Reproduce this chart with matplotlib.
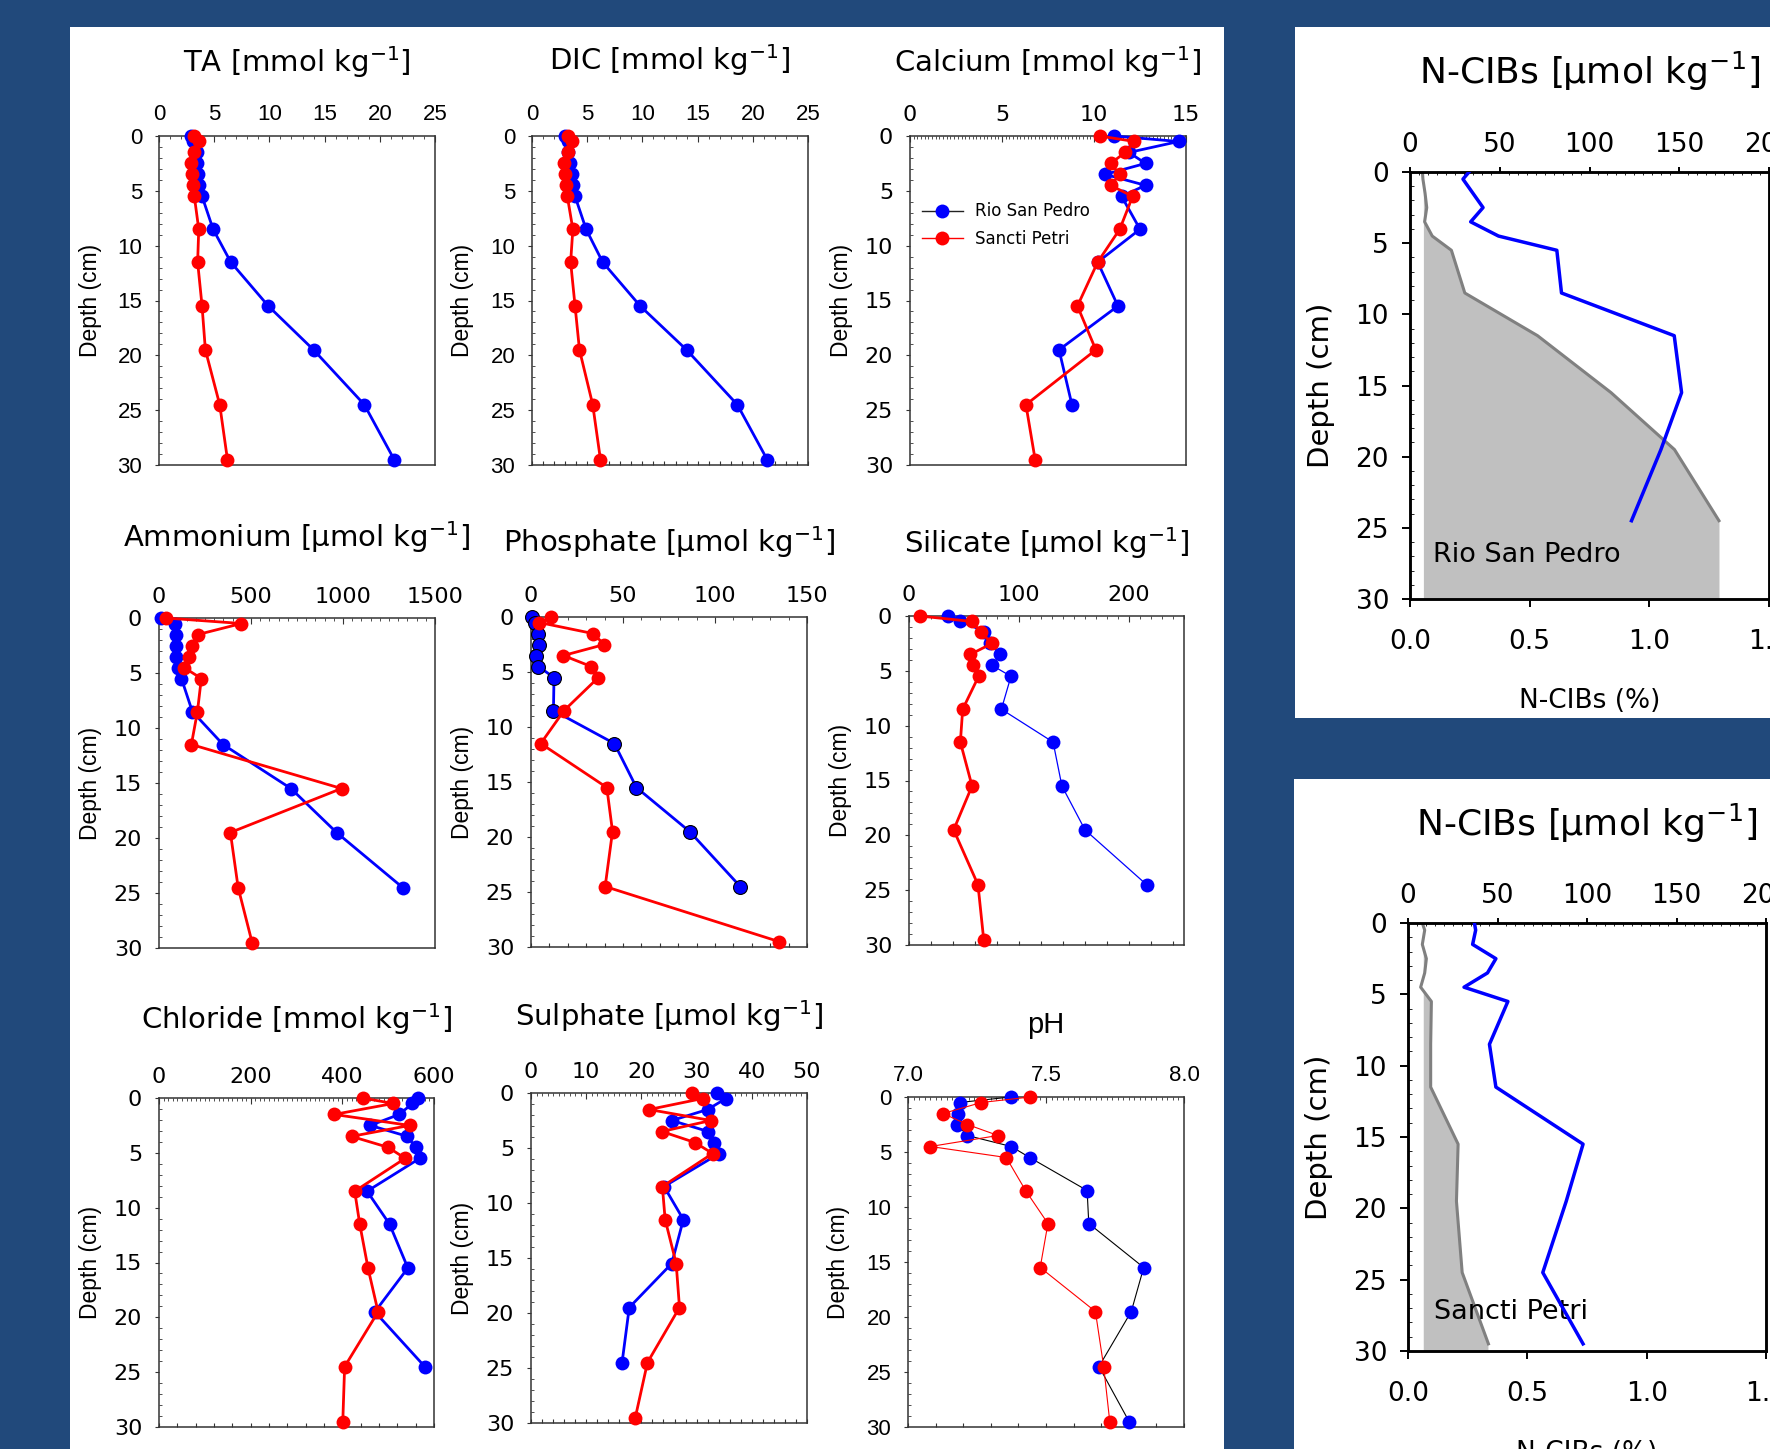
import matplotlib
matplotlib.use('Agg')
import matplotlib.pyplot as plt
from matplotlib.lines import Line2D
from matplotlib.patches import Rectangle
from matplotlib.ticker import MultipleLocator, FormatStrFormatter

plt.rcParams['font.family'] = ['DejaVu Sans']
plt.rcParams['mathtext.default'] = 'regular'

# sampling depths (cm)
depth = [0, 0.5, 1.5, 2.5, 3.5, 4.5, 5.5, 8.5, 11.5, 15.5, 19.5, 24.5, 29.5]

# Rio San Pedro (rsp) and Sancti Petri (sp) porewater profiles
ta_rsp = [2.9, 3.1, 3.4, 3.4, 3.5, 3.6, 3.9, 4.9, 6.5, 9.9, 14.0, 18.6, 21.3]
ta_sp = [3.2, 3.6, 3.2, 2.9, 3.0, 3.1, 3.2, 3.6, 3.5, 3.9, 4.2, 5.5, 6.2]
dic_rsp = [3.0, 3.3, 3.3, 3.4, 3.6, 3.7, 3.9, 4.9, 6.4, 9.8, 14.0, 18.6, 21.3]
dic_sp = [3.3, 3.6, 3.3, 2.9, 3.0, 3.1, 3.2, 3.7, 3.5, 3.9, 4.3, 5.5, 6.2]
ca_rsp = [11.1, 14.6, 11.9, 12.8, 10.6, 12.8, 11.5, 12.5, 10.2, 11.3, 8.1, 8.8]
ca_sp = [10.3, 12.2, 11.7, 10.9, 11.4, 10.9, 12.1, 11.4, 10.2, 9.1, 10.1, 6.3, 6.8]
nh4_rsp = [13, 85, 91, 91, 91, 103, 122, 181, 348, 717, 965, 1324]
nh4_sp = [36, 448, 212, 181, 163, 136, 230, 209, 176, 992, 388, 430, 506]
po4_rsp = [0.7, 2.2, 3.6, 4.2, 2.7, 4.0, 12.5, 12.2, 45.3, 57.3, 86.2, 113.7]
po4_sp = [10.9, 4.5, 33.6, 39.9, 17.6, 32.7, 36.6, 18.0, 5.3, 41.2, 44.3, 40.3, 134.6]
si_rsp = [35.5, 46.7, 68.5, 73.3, 83, 75.5, 92.7, 84, 131, 139, 160, 216]
si_sp = [9.7, 57.3, 65.5, 75.5, 55.8, 58.2, 63.3, 48.8, 46.7, 57.3, 40.6, 62.7, 67.9]
cl_rsp = [565, 553, 524, 461, 542, 560, 569, 454, 503, 543, 471, 580]
cl_sp = [444, 511, 382, 547, 420, 500, 537, 427, 438, 456, 478, 405, 401]
so4_rsp = [33.7, 35.3, 32.0, 25.5, 32.1, 33.2, 34.1, 24.1, 27.6, 25.5, 17.8, 16.5]
so4_sp = [29.1, 31.1, 21.4, 32.6, 23.7, 29.7, 32.9, 23.8, 24.3, 26.3, 26.9, 21.1, 18.9]
ph_rsp = [7.372, 7.187, 7.181, 7.178, 7.215, 7.374, 7.441, 7.649, 7.655, 7.854, 7.809, 7.692, 7.801]
ph_sp = [7.443, 7.266, 7.127, 7.215, 7.326, 7.081, 7.356, 7.426, 7.507, 7.479, 7.679, 7.709, 7.731]

# N-CIBs: concentration (umol/kg) and percentage
ncib_rsp_umol = [32.9, 29.5, 35.1, 40.7, 33.8, 49.3, 81.8, 84.4, 147.2, 151.3, 139.8, 123.4]
ncib_rsp_pct = [0.052, 0.054, 0.063, 0.070, 0.061, 0.093, 0.173, 0.229, 0.533, 0.840, 1.105, 1.291]
ncib_sp_umol = [37.1, 37.8, 36.1, 49.1, 44.4, 31.3, 55.8, 45.5, 49.1, 97.8, 88.4, 75.3, 97.8]
ncib_sp_pct = [0.060, 0.070, 0.060, 0.077, 0.070, 0.053, 0.098, 0.095, 0.095, 0.210, 0.203, 0.227, 0.337]

BLUE, RED = '#0000ff', '#ff0000'
AXC = '#333333'
ARIAL = 'Liberation Sans'
GOTH = 'DejaVu Sans'

W, H = 1770, 1449
fig = plt.figure(figsize=(W / 100, H / 100), dpi=100, facecolor='#21497b')


def white_panel(x0, y0, x1, y1):
    fig.add_artist(Rectangle((x0 / W, 1 - y1 / H), (x1 - x0) / W, (y1 - y0) / H,
                             transform=fig.transFigure, facecolor='white',
                             edgecolor='none', zorder=-5))


def box_axes(x0, y0, x1, y1):
    return fig.add_axes([x0 / W, 1 - y1 / H, (x1 - x0) / W, (y1 - y0) / H])


white_panel(70, 27, 1224, 1449)
white_panel(1295, 27, 1770, 718)
white_panel(1294, 779, 1770, 1449)


def profile(box, title, xlim, major, top_minor, bot_step, rsp, sp, fmt='%g',
            tfont=GOTH, title_font=GOTH, title_off=66, lw_b=2.0, lw_r=2.0,
            line_b=BLUE, mec_b=None):
    ax = box_axes(*box)
    wpx, hpx = box[2] - box[0], box[3] - box[1]
    ax.plot(rsp, depth[:len(rsp)], color=line_b, lw=lw_b, marker='o', ms=10,
            mfc=BLUE, mec=mec_b if mec_b else BLUE, mew=0.8 if mec_b else 0,
            clip_on=False, zorder=3)
    ax.plot(sp, depth[:len(sp)], color=RED, lw=lw_r, marker='o', ms=10,
            mfc=RED, mec=RED, mew=0, clip_on=False, zorder=4)
    ax.set_xlim(*xlim)
    ax.set_ylim(30, 0)
    for s in ax.spines.values():
        s.set_color(AXC)
        s.set_linewidth(1.1)
    ax.xaxis.set_major_locator(MultipleLocator(major))
    ax.xaxis.set_minor_locator(MultipleLocator(top_minor))
    ax.xaxis.set_major_formatter(FormatStrFormatter(fmt))
    ax.tick_params(axis='x', which='both', top=True, bottom=False, labeltop=True,
                   labelbottom=False, direction='in', color=AXC)
    ax.tick_params(axis='x', which='major', length=4, pad=8, labelsize=16,
                   labelfontfamily=tfont)
    ax.tick_params(axis='x', which='minor', length=2)
    ax.yaxis.set_major_locator(MultipleLocator(5))
    ax.yaxis.set_minor_locator(MultipleLocator(1))
    ax.tick_params(axis='y', which='both', right=False, color=AXC)
    ax.tick_params(axis='y', which='major', direction='out', length=3.1, pad=9,
                   labelsize=16, labelfontfamily=tfont)
    ax.tick_params(axis='y', which='minor', direction='in', length=2.5)
    if bot_step:
        sec = ax.secondary_xaxis('bottom')
        sec.xaxis.set_major_locator(MultipleLocator(bot_step))
        sec.tick_params(direction='in', length=3, labelbottom=False, color=AXC)
        sec.spines['bottom'].set_visible(False)
    ax.text(0.5, 1 + title_off / hpx, title, transform=ax.transAxes, ha='center',
            va='baseline', fontsize=21, family=title_font)
    ax.text(-69 / wpx, 0.5, 'Depth (cm)', transform=ax.transAxes, rotation=90,
            ha='center', va='center', fontsize=16.5, family=ARIAL)
    return ax


profile((159, 136, 435, 465), 'TA [mmol kg$^{-1}$]', (0, 25), 5, 1, None,
        ta_rsp, ta_sp, tfont=ARIAL, title_off=64)
profile((532, 136, 808, 465), 'DIC [mmol kg$^{-1}$]', (0, 25), 5, 1, 1,
        dic_rsp, dic_sp, tfont=ARIAL, title_off=66)
ax_ca = profile((910, 136, 1186, 465), 'Calcium [mmol kg$^{-1}$]', (0, 15), 5, 0.2,
                None, ca_rsp, ca_sp, title_off=64)
handles = [Line2D([], [], color='#222222', lw=1, marker='o', ms=10, mfc=BLUE, mew=0),
           Line2D([], [], color=RED, lw=1, marker='o', ms=10, mfc=RED, mew=0)]
ax_ca.legend(handles, ['Rio San Pedro', 'Sancti Petri'], loc='center left',
             bbox_to_anchor=(0.042, 0.7295), frameon=False, fontsize=12,
             handlelength=2.5, handletextpad=0.7, labelspacing=0.55,
             borderpad=0, borderaxespad=0)

profile((159, 618, 435, 948), 'Ammonium [µmol kg$^{-1}$]', (0, 1500), 500, 50, None,
        nh4_rsp, nh4_sp, title_off=71)
profile((531, 617, 807, 947), 'Phosphate [µmol kg$^{-1}$]', (0, 150), 50, 10, 10,
        po4_rsp, po4_sp, title_off=65, mec_b='black')
profile((909, 616, 1184, 945), 'Silicate [µmol kg$^{-1}$]', (0, 250), 100, 10, 20,
        si_rsp, si_sp, title_off=63, lw_b=0.9)

profile((159, 1098, 434, 1427), 'Chloride [mmol kg$^{-1}$]', (0, 600), 200, 10, 40,
        cl_rsp, cl_sp, title_off=69)
profile((531, 1093, 807, 1423), 'Sulphate [µmol kg$^{-1}$]', (0, 50), 10, 1, 2,
        so4_rsp, so4_sp, title_off=67)
profile((908, 1097, 1184, 1427), 'pH', (7.0, 8.0), 0.5, 0.02, 0.1,
        ph_rsp, ph_sp, fmt='%.1f', tfont=ARIAL, title_font=ARIAL, title_off=64,
        lw_b=0.8, lw_r=0.8, line_b='black')


def ncib(box, umol, pct, fill_left, label, label_xy, title_off):
    ax = box_axes(*box)
    wpx, hpx = box[2] - box[0], box[3] - box[1]
    d_pct = depth[:len(pct)] + [30]
    v_pct = pct + [pct[-1]]
    ax.fill_betweenx(d_pct, fill_left, v_pct, where=[v >= fill_left for v in v_pct],
                     interpolate=True, color='#c0c0c0', lw=0, zorder=1)
    ax.plot(pct, depth[:len(pct)], color='#808080', lw=2.2, zorder=2)
    ax.set_xlim(0, 1.5)
    ax.set_ylim(30, 0)
    ax.xaxis.set_major_locator(MultipleLocator(0.5))
    ax.xaxis.set_major_formatter(FormatStrFormatter('%.1f'))
    ax.tick_params(axis='x', which='major', direction='out', length=5.8, width=1.4,
                   pad=16, labelsize=19, color='black')
    ax.yaxis.set_major_locator(MultipleLocator(5))
    ax.yaxis.set_minor_locator(MultipleLocator(1))
    ax.tick_params(axis='y', which='major', direction='out', length=5.5, width=1.4,
                   pad=9.6, labelsize=19)
    ax.tick_params(axis='y', which='minor', direction='in', length=3)
    for s in ax.spines.values():
        s.set_linewidth(1.8)
    ax.text(label_xy[0], label_xy[1], label, fontsize=19.5, va='center', zorder=5)
    ax.text(0.5, -102 / hpx, 'N-CIBs (%)', transform=ax.transAxes, ha='center',
            va='center', fontsize=19)
    ax.text(-89 / wpx, 0.5, 'Depth (cm)', transform=ax.transAxes, rotation=90,
            ha='center', va='center', fontsize=21)
    ax.text(0.5, 1 + title_off / hpx, 'N-CIBs [µmol kg$^{-1}$]', transform=ax.transAxes,
            ha='center', va='baseline', fontsize=26)

    ax2 = ax.twiny()
    ax2.plot(umol, depth[:len(umol)], color=BLUE, lw=2.5, zorder=3)
    ax2.set_xlim(0, 200)
    ax2.xaxis.set_major_locator(MultipleLocator(50))
    ax2.xaxis.set_minor_locator(MultipleLocator(5))
    ax2.tick_params(axis='x', which='major', direction='out', length=3.6, width=1.4,
                    pad=6.8, labelsize=19)
    ax2.tick_params(axis='x', which='minor', direction='in', length=2)
    for s in ax2.spines.values():
        s.set_linewidth(1.8)
    return ax


ncib((1410, 172, 1769, 599), ncib_rsp_umol, ncib_rsp_pct, 0.056,
     'Rio San Pedro', (0.097, 26.9), 88)
ncib((1408, 923, 1766, 1351), ncib_sp_umol, ncib_sp_pct, 0.066,
     'Sancti Petri', (0.108, 27.3), 87)

fig.savefig('out.png', dpi=100, facecolor=fig.get_facecolor())
